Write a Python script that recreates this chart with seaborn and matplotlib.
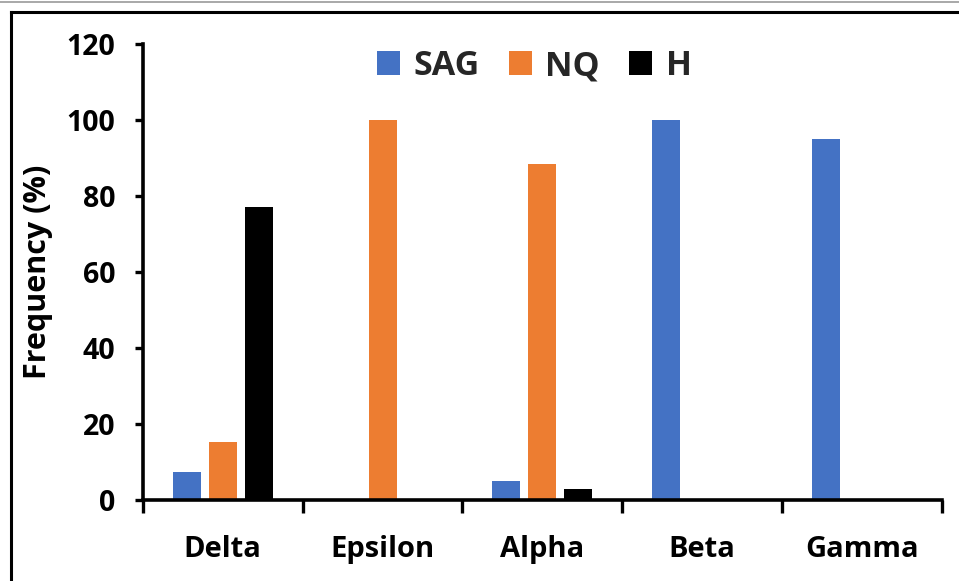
import matplotlib
matplotlib.use("Agg")
import matplotlib.pyplot as plt
from matplotlib.lines import Line2D
from matplotlib.ticker import FixedLocator, NullFormatter
import pandas as pd
import seaborn as sns

# Frequency (%) of each group by subtype
categories = ["Delta", "Epsilon", "Alpha", "Beta", "Gamma"]
series_names = ["SAG", "NQ", "H"]
sag = [7.5, 0, 5, 100, 95]
nq = [15.3, 100, 88.3, 0, 0]
h = [77, 0, 3, 0, 0]
y_ticks = [0, 20, 40, 60, 80, 100, 120]
colors = ["#4472C4", "#ED7D31", "#000000"]

df = pd.DataFrame({
    "category": categories * 3,
    "series": [s for s in series_names for _ in categories],
    "value": sag + nq + h,
})

sns.set_theme(style="white")
plt.rcParams["font.family"] = ["Open Sans", "DejaVu Sans"]
plt.rcParams["font.weight"] = "bold"

fig = plt.figure(figsize=(9.59, 5.81), dpi=100)
ax = fig.add_axes([0.149, 0.1394, 0.833, 0.7849])

sns.barplot(data=df, x="category", y="value", hue="series",
            order=categories, hue_order=series_names, palette=colors,
            width=0.675, gap=0.22, linewidth=0, saturation=1,
            ax=ax, legend=True)

ax.set_xlim(-0.5, len(categories) - 0.5)
ax.set_ylim(0, 120)
ax.set_yticks(y_ticks)

for side in ["top", "right"]:
    ax.spines[side].set_visible(False)
for side in ["left", "bottom"]:
    ax.spines[side].set_linewidth(2.6)
    ax.spines[side].set_color("black")

# category boundary ticks on the x axis, labels centred between them
ax.xaxis.set_minor_locator(FixedLocator([i - 0.5 for i in range(len(categories) + 1)]))
ax.xaxis.set_minor_formatter(NullFormatter())
ax.tick_params(axis="x", which="major", length=0, pad=25, labelsize=21)
ax.tick_params(axis="x", which="minor", bottom=True, direction="out",
               length=9, width=2.4, color="black")
ax.tick_params(axis="y", which="major", left=True, direction="out",
               length=6, width=2.4, color="black", pad=14, labelsize=20.5)
for lab in ax.get_xticklabels() + ax.get_yticklabels():
    lab.set_fontweight("bold")
    lab.set_color("black")

ax.set_xlabel("")
ax.set_ylabel("Frequency (%)", fontsize=22, fontweight="bold", color="black")
ax.yaxis.set_label_coords(-0.113, 0.5)

handles, labels = ax.get_legend_handles_labels()
ax.legend(handles, labels, loc="center", bbox_to_anchor=(0.557, 0.886),
          bbox_transform=fig.transFigure, ncol=3, frameon=False,
          prop={"size": 24.5, "weight": "bold"}, handlelength=0.68,
          handleheight=0.72, handletextpad=0.4, columnspacing=0.85,
          borderpad=0)

# surrounding frame
W, H = 959, 581
fig.add_artist(Line2D([0, 1], [1 - 1.5 / H, 1 - 1.5 / H], transform=fig.transFigure,
                      color="#999999", linewidth=1.2))
fig.add_artist(Line2D([10.5 / W, 1], [1 - 11.5 / H, 1 - 11.5 / H], transform=fig.transFigure,
                      color="black", linewidth=2.2, solid_capstyle="projecting"))
fig.add_artist(Line2D([10.5 / W, 10.5 / W], [0, 1 - 11.5 / H], transform=fig.transFigure,
                      color="black", linewidth=2.2, solid_capstyle="projecting"))

fig.savefig("out.png", dpi=100, facecolor="white")
